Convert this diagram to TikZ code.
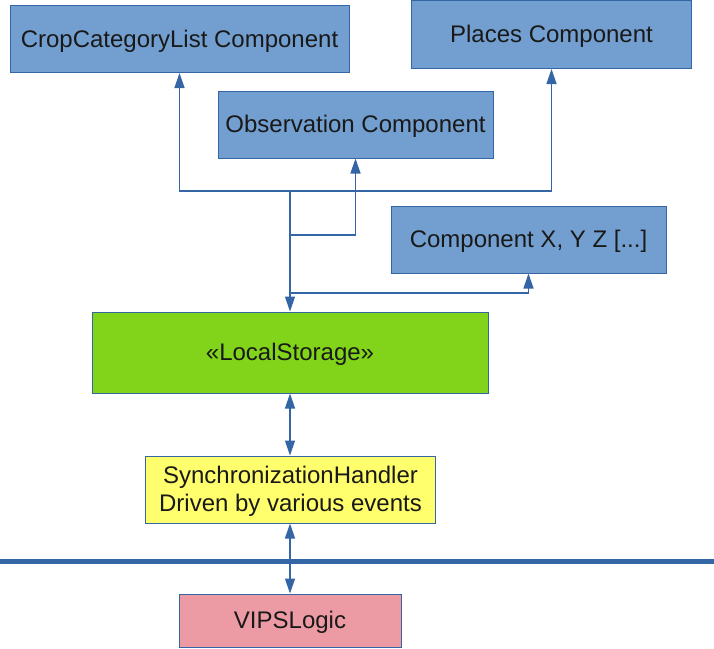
\documentclass[tikz,border=0pt]{standalone}
\usepackage{fontspec}
\setmainfont{Liberation Sans}
\usetikzlibrary{arrows.meta}
\definecolor{boxblue}{HTML}{729FCF}
\definecolor{edgeblue}{HTML}{3465A4}
\definecolor{lsgreen}{HTML}{81D41A}
\definecolor{syyellow}{HTML}{FFFF6D}
\definecolor{vpink}{HTML}{EC9BA4}
\tikzset{
  txt/.style={inner sep=0pt, align=center,
    font=\fontsize{24}{28}\selectfont, text=black!90},
  box/.style={txt, draw=edgeblue, line width=1pt,
    text height=17.5pt, text depth=1.5pt},
  comp/.style={box, fill=boxblue},
  conn/.style={draw=edgeblue, line width=1.3pt, -{Triangle[width=10pt,length=15pt]}},
  conn2/.style={draw=edgeblue, line width=1.3pt, {Triangle[width=10pt,length=15pt]}-{Triangle[width=10pt,length=15pt]}},
}
\begin{document}
\begin{tikzpicture}[x=1pt,y=-1pt]
\useasboundingbox (0,0) rectangle (714,648);
\node[comp, minimum width=339pt, minimum height=67pt] (crop) at (179.5,39) {CropCategoryList Component};
\node[comp, minimum width=280pt, minimum height=68pt] (places) at (551.5,34.5) {Places Component};
\node[comp, minimum width=275pt, minimum height=67pt] (obs) at (355.5,124.5) {Observation Component};
\node[comp, minimum width=275pt, minimum height=67pt] (compx) at (528.5,239.5) {Component X, Y Z [...]};
\node[box, fill=lsgreen, minimum width=396pt, minimum height=81pt] (local) at (290,352.5) {«LocalStorage»};
\node[box, fill=syyellow, minimum width=290pt, minimum height=67pt] (sync) at (290.5,489.5) {};
\node[txt] (synctext) at ([yshift=-2pt]sync.center) {SynchronizationHandler\\Driven by various events};
\node[box, fill=vpink, minimum width=222pt, minimum height=53pt] (vips) at (290,620.5) {VIPSLogic};
\coordinate (j1) at (290,191);
\coordinate (j2) at (290,235);
\coordinate (j3) at (290,293);
\coordinate (barL) at (0,561.5);
\coordinate (barR) at (714,561.5);
\draw[edgeblue, line width=4.5pt] (barL) -- (barR);
\draw[conn] (j1) -- (local.north);
\draw[conn] (j1) -| (crop.south);
\draw[conn] (j1) -| (places.south);
\draw[conn] (j2) -| (obs.south);
\draw[conn] (j3) -| (compx.south);
\draw[conn2] (local.south) -- (local.south |- sync.north);
\draw[conn2] (local.south |- sync.south) -- (local.south |- vips.north);
\end{tikzpicture}
\end{document}
